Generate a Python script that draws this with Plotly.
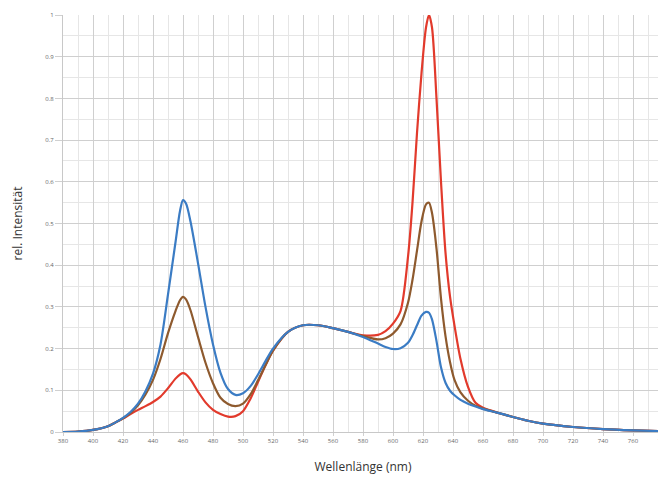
import plotly.graph_objects as go

wavelength = [380, 390, 400, 410, 415, 420, 425, 430, 435, 440, 445, 450, 455, 458, 460, 462,
              465, 470, 475, 480, 485, 490, 495, 500, 505, 510, 515, 520, 530, 540, 550, 560,
              570, 580, 590, 595, 600, 605, 610, 613, 616, 619, 622, 624, 626, 629, 632, 635,
              638, 641, 645, 650, 655, 660, 670, 680, 690, 700, 720, 740, 760, 780]

blue = [0.0, 0.001, 0.005, 0.014, 0.023, 0.034, 0.048, 0.068, 0.098, 0.14, 0.21, 0.33, 0.455, 0.53, 0.556, 0.548,
        0.505, 0.405, 0.3, 0.21, 0.142, 0.103, 0.089, 0.093, 0.11, 0.138, 0.17, 0.2, 0.24, 0.256, 0.256, 0.249,
        0.24, 0.228, 0.212, 0.204, 0.199, 0.201, 0.214, 0.232, 0.256, 0.279, 0.288, 0.286, 0.27, 0.218, 0.155, 0.118,
        0.099, 0.088, 0.077, 0.068, 0.061, 0.055, 0.046, 0.036, 0.027, 0.02, 0.012, 0.007, 0.004, 0.002]

brown = [0.0, 0.001, 0.005, 0.014, 0.023, 0.033, 0.046, 0.064, 0.09, 0.125, 0.175, 0.237, 0.29, 0.316, 0.324, 0.318,
         0.292, 0.228, 0.166, 0.117, 0.082, 0.067, 0.062, 0.068, 0.09, 0.124, 0.16, 0.195, 0.24, 0.256, 0.256, 0.249,
         0.24, 0.23, 0.222, 0.225, 0.236, 0.258, 0.31, 0.365, 0.435, 0.505, 0.546, 0.55, 0.525, 0.44, 0.32, 0.23,
         0.168, 0.125, 0.095, 0.075, 0.063, 0.056, 0.046, 0.036, 0.027, 0.02, 0.012, 0.007, 0.004, 0.002]

red = [0.0, 0.001, 0.005, 0.014, 0.023, 0.032, 0.043, 0.053, 0.062, 0.072, 0.085, 0.105, 0.128, 0.138, 0.141, 0.138,
       0.126, 0.097, 0.071, 0.053, 0.043, 0.037, 0.038, 0.05, 0.08, 0.12, 0.16, 0.195, 0.24, 0.256, 0.256, 0.249,
       0.24, 0.232, 0.233, 0.242, 0.26, 0.29, 0.42, 0.55, 0.717, 0.86, 0.97, 1.0, 0.97, 0.8, 0.6, 0.43,
       0.325, 0.255, 0.175, 0.108, 0.07, 0.058, 0.046, 0.036, 0.027, 0.02, 0.012, 0.007, 0.004, 0.002]

x_ticks = list(range(380, 781, 20))
y_ticks = [0, 0.1, 0.2, 0.3, 0.4, 0.5, 0.6, 0.7, 0.8, 0.9, 1]
y_tick_labels = ["0", "0.1", "0.2", "0.3", "0.4", "0.5", "0.6", "0.7", "0.8", "0.9", "1"]

fig = go.Figure()
for name, vals, color in [("rot", red, "#e23a2c"), ("mittel", brown, "#8e5a2e"), ("blau", blue, "#3b7cc4")]:
    fig.add_trace(go.Scatter(x=wavelength, y=vals, mode="lines", name=name,
                             line=dict(color=color, width=2.2, shape="spline", smoothing=0.8)))

# the page body adds an 8px offset, so the figure is sized to fit the window from there
fig.update_layout(
    width=658, height=474,
    margin=dict(l=55, r=3, t=7, b=50),
    paper_bgcolor="white", plot_bgcolor="white",
    showlegend=False,
    font=dict(family="Open Sans, Roboto, sans-serif", color="#333"),
)
fig.update_xaxes(
    range=[380, 780], tickvals=x_ticks, ticktext=[str(v) for v in x_ticks],
    tickfont=dict(size=6, color="#666"), ticklabeloverflow="allow",
    showgrid=True, gridcolor="#cfcfcf", gridwidth=1,
    minor=dict(dtick=10, tick0=380, showgrid=True, gridcolor="#e6e6e6"),
    zeroline=False, showline=True, linecolor="#c8c8c8",
    ticks="outside", ticklen=3, tickcolor="#d0d0d0",
    automargin=False,
    title=dict(text="Wellenlänge (nm)", font=dict(size=12, color="#333"), standoff=18),
)
fig.update_yaxes(
    range=[0, 1.0], tickvals=y_ticks, ticktext=y_tick_labels,
    tickfont=dict(size=6, color="#666"), ticklabeloverflow="allow",
    showgrid=True, gridcolor="#cfcfcf", gridwidth=1,
    minor=dict(dtick=0.05, tick0=0, showgrid=True, gridcolor="#e6e6e6"),
    zeroline=False, showline=True, linecolor="#c8c8c8",
    ticks="outside", ticklen=7, tickcolor="#d0d0d0",
    automargin=False,
    title=dict(text="rel. Intensität", font=dict(size=12, color="#333"), standoff=20),
)

fig.write_html("out.html")
